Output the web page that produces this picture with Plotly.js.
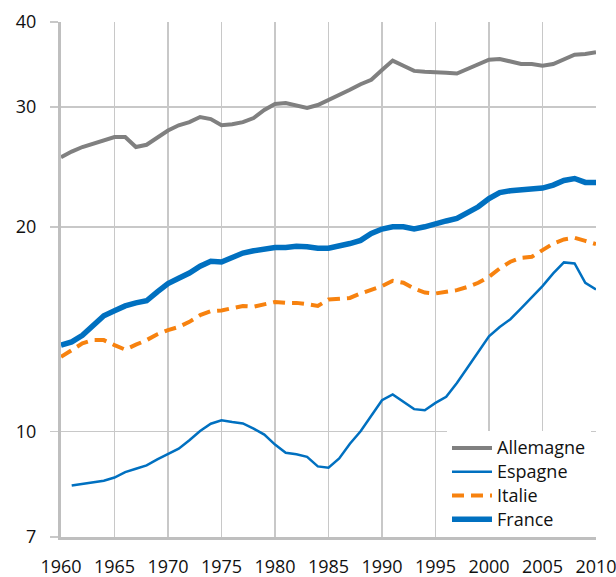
<!DOCTYPE html>
<html>
<head>
<meta charset="utf-8">
<script src="https://cdn.plot.ly/plotly-3.0.1.min.js"></script>
<style>html,body{margin:0;padding:0;background:#fff;}#chart{width:616px;height:577px;}</style>
</head>
<body>
<div id="chart"></div>
<script>
var years = [];
for (var yr = 1960; yr <= 2010; yr++) years.push(yr);
var yearsEsp = years.slice(1);

var allemagne = [25.3,25.8,26.2,26.5,26.8,27.1,27.1,26.2,26.4,27.0,27.7,28.2,28.5,29.0,28.8,28.2,28.3,28.5,28.9,29.7,30.3,30.4,30.1,29.9,30.2,30.7,31.3,31.8,32.4,32.9,34.0,35.1,34.5,33.9,33.8,33.8,33.7,33.6,34.1,34.7,35.2,35.3,35.0,34.7,34.7,34.5,34.7,35.2,35.8,35.9,36.1];
var espagne = [8.33,8.37,8.42,8.47,8.56,8.72,8.82,8.92,9.10,9.28,9.44,9.71,10.02,10.27,10.39,10.33,10.28,10.10,9.90,9.57,9.31,9.26,9.18,8.89,8.85,9.13,9.60,10.01,10.57,11.12,11.34,11.06,10.79,10.75,11.02,11.25,11.79,12.42,13.10,13.81,14.25,14.63,15.17,15.73,16.36,17.08,17.73,17.67,16.55,16.18];
var italie = [12.88,13.2,13.48,13.63,13.63,13.4,13.2,13.42,13.63,13.9,14.1,14.25,14.5,14.83,15.03,15.07,15.2,15.3,15.26,15.39,15.51,15.46,15.46,15.39,15.3,15.64,15.7,15.72,15.96,16.14,16.36,16.66,16.55,16.23,16.01,15.96,16.05,16.14,16.32,16.55,16.89,17.37,17.77,18.01,18.07,18.48,18.9,19.16,19.27,19.07,18.86];
var france = [13.4,13.55,13.85,14.3,14.8,15.05,15.3,15.46,15.57,16.05,16.5,16.8,17.1,17.5,17.8,17.75,18.03,18.3,18.44,18.57,18.65,18.65,18.72,18.7,18.6,18.6,18.73,18.9,19.1,19.55,19.85,20.0,20.0,19.85,20.0,20.23,20.4,20.57,20.93,21.4,22.0,22.46,22.6,22.65,22.65,22.8,23.03,23.4,23.55,23.24,23.24];

var seriesNames = ['Allemagne', 'Espagne', 'Italie', 'France'];
var yTicks = [7, 10, 20, 30, 40];
var xTicks = [1960,1965,1970,1975,1980,1985,1990,1995,2000,2005,2010];

var FONT = '"Open Sans", "Noto Sans", sans-serif';
function legName(s) { return '<span style="font-size:18px">' + s + '</span>'; }

var traces = [
  {x: years, y: allemagne, name: legName(seriesNames[0]), mode: 'lines', line: {color: '#808080', width: 4}},
  {x: yearsEsp, y: espagne, name: legName(seriesNames[1]), mode: 'lines', line: {color: '#0070c0', width: 2.5}},
  {x: years, y: italie, name: legName(seriesNames[2]), mode: 'lines', line: {color: '#f7820f', width: 4, dash: '12px,7px'}},
  {x: years, y: france, name: legName(seriesNames[3]), mode: 'lines', line: {color: '#0070c0', width: 5.5}}
];

var layout = {
  width: 616, height: 577,
  margin: {l: 61, r: 20, t: 22, b: 40},
  paper_bgcolor: '#fff', plot_bgcolor: '#fff',
  font: {family: FONT, size: 18, color: '#111'},
  showlegend: true,
  legend: {
    x: 0.7215, xanchor: 'left', y: 0, yanchor: 'bottom',
    bgcolor: '#ffffff', borderwidth: 0,
    font: {family: FONT, size: 16, color: '#111'},
    tracegroupgap: 0, itemwidth: 40
  },
  xaxis: {
    range: [1960, 2010], tickvals: xTicks, ticktext: xTicks.map(String),
    showgrid: true, gridcolor: '#c8c8c8', gridwidth: 1.5,
    showline: true, linecolor: '#bfbfbf', linewidth: 3,
    ticks: '', zeroline: false, ticklabelstandoff: 11, ticklabeloverflow: 'allow',
    tickfont: {family: FONT, size: 18, color: '#111'}, fixedrange: true
  },
  yaxis: {
    type: 'log', range: [Math.log10(7), Math.log10(40)],
    tickvals: yTicks, ticktext: yTicks.map(String),
    showgrid: true, gridcolor: '#c8c8c8', gridwidth: 1.5,
    showline: true, linecolor: '#bfbfbf', linewidth: 3,
    ticks: 'outside', ticklen: 8, tickcolor: '#c8c8c8', tickwidth: 1.5,
    ticklabelstandoff: 10, zeroline: false,
    tickfont: {family: FONT, size: 18, color: '#111'}, fixedrange: true
  }
};

Plotly.newPlot('chart', traces, layout, {displayModeBar: false, staticPlot: true});
</script>
</body>
</html>
